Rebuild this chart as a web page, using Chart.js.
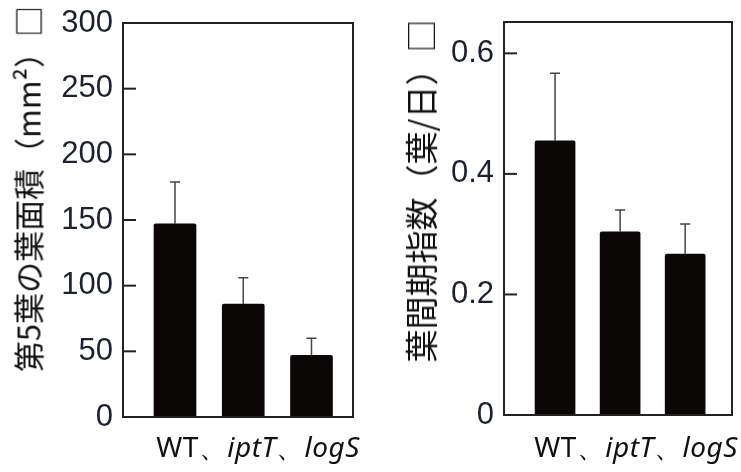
<!DOCTYPE html>
<html>
<head>
<meta charset="utf-8">
<script src="https://cdn.jsdelivr.net/npm/chart.js@4.4.0/dist/chart.umd.min.js"></script>
<style>
  html, body { margin: 0; padding: 0; background: #fff; }
  #wrap { position: relative; width: 741px; height: 472px; overflow: hidden; }
  .box { position: absolute; top: 0; height: 472px; }
  .ylab {
    position: absolute; white-space: nowrap; color: #111;
    font-family: "Noto Sans CJK JP", "Noto Sans", sans-serif; font-size: 31px;
    transform: translate(-50%, -50%) rotate(-90deg);
  }
  .xlab {
    position: absolute; white-space: nowrap; color: #111;
    font-family: "Noto Sans", "Open Sans", sans-serif; font-size: 28px; letter-spacing: 0.5px;
    transform: translate(-50%, -50%);
  }
  .xlab i { font-style: italic; }
</style>
</head>
<body>
<div id="wrap">
  <div class="box" style="left:0;width:370px"><canvas id="areaChart"></canvas></div>
  <div class="box" style="left:370px;width:371px"><canvas id="plastoChart"></canvas></div>
  <div class="ylab" style="left:27px;top:189px">第5葉の葉面積（mm²）□</div>
  <div class="ylab" style="left:420px;top:191px;font-size:33px">葉間期指数（葉/日）□</div>
  <div class="xlab" style="left:258px;top:447px">WT、<i>iptT</i>、<i>logS</i></div>
  <div class="xlab" style="left:636px;top:447px">WT、<i>iptT</i>、<i>logS</i></div>
</div>
<script>
// data
const categories = ['WT', 'iptT', 'logS'];
const leafArea = [147, 86, 47];
const leafAreaErr = [32, 20, 13];
const plastochron = [0.455, 0.304, 0.267];
const plastochronErr = [0.112, 0.036, 0.05];
const areaTicks = [0, 50, 100, 150, 200, 250, 300];
const plastoTicks = [0, 0.2, 0.4, 0.6];

const ink = '#1b2233';

// box, inward tick marks and error bars
const framePlugin = {
    id: 'frame',
    afterDatasetsDraw(chart, args, opts) {
        const { ctx, chartArea: a } = chart;
        const y = chart.scales.y;
        const meta = chart.getDatasetMeta(0);
        const vals = chart.data.datasets[0].data;
        ctx.save();
        ctx.strokeStyle = '#444';
        ctx.lineWidth = 1.5;
        meta.data.forEach((bar, i) => {
            const top = y.getPixelForValue(vals[i].y + opts.errors[i]);
            ctx.beginPath();
            ctx.moveTo(bar.x, bar.y);
            ctx.lineTo(bar.x, top);
            ctx.moveTo(bar.x - 5, top);
            ctx.lineTo(bar.x + 5, top);
            ctx.stroke();
        });
        ctx.strokeStyle = '#222';
        ctx.lineWidth = 2;
        y.ticks.forEach(t => {
            const py = y.getPixelForValue(t.value);
            ctx.beginPath();
            ctx.moveTo(a.left, py);
            ctx.lineTo(a.left + 13, py);
            ctx.stroke();
        });
        ctx.strokeRect(a.left, a.top, a.right - a.left, a.bottom - a.top);
        ctx.restore();
    }
};

function makeChart(id, values, errors, tickVals, opt) {
    new Chart(document.getElementById(id), {
        type: 'bar',
        data: {
            labels: categories,
            datasets: [{
                data: values.map((v, i) => ({ x: i + 1, y: v })),
                backgroundColor: '#0b0706',
                barThickness: opt.barWidth,
                borderRadius: 2,
                borderSkipped: 'bottom'
            }]
        },
        options: {
            responsive: true,
            maintainAspectRatio: false,
            animation: false,
            layout: { padding: opt.padding },
            plugins: {
                legend: { display: false },
                tooltip: { enabled: false },
                frame: { errors: errors }
            },
            scales: {
                x: { type: 'linear', display: false, offset: false, min: opt.xMin, max: opt.xMax },
                y: {
                    min: 0,
                    max: opt.yMax,
                    afterFit: s => {
                        s.width = opt.axisWidth;
                        s.paddingTop = 0;
                        s.paddingBottom = 0;
                    },
                    afterBuildTicks: s => { s.ticks = tickVals.map(v => ({ value: v })); },
                    grid: { display: false, drawTicks: false },
                    border: { display: false },
                    ticks: {
                        padding: 10,
                        color: ink,
                        font: { family: 'Liberation Sans, Arial, sans-serif', size: 31 },
                        callback: opt.fmt
                    }
                }
            }
        },
        plugins: [framePlugin]
    });
}

makeChart('areaChart', leafArea, leafAreaErr, areaTicks, {
    barWidth: 42, xMin: 0.238, xMax: 3.608, yMax: 300, axisWidth: 123,
    padding: { top: 23, right: 17, bottom: 55, left: 0 },
    fmt: v => String(v)
});

makeChart('plastoChart', plastochron, plastochronErr, plastoTicks, {
    barWidth: 40, xMin: 0.215, xMax: 3.72, yMax: 0.652, axisWidth: 134,
    padding: { top: 22, right: 9, bottom: 57, left: 0 },
    fmt: v => v === 0 ? '0' : v.toFixed(1)
});
</script>
</body>
</html>
